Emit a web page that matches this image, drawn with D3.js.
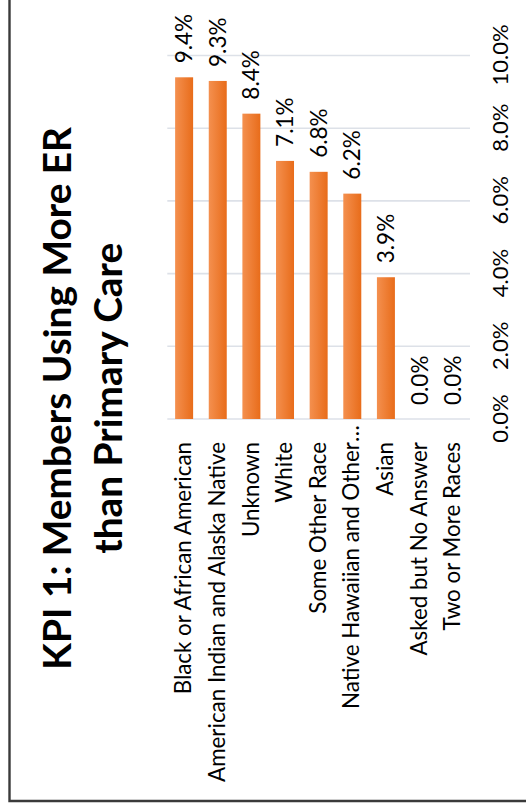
<!DOCTYPE html>
<html>
<head>
<meta charset="utf-8">
<script src="https://cdn.jsdelivr.net/npm/d3@7"></script>
<style>
  html, body { margin: 0; padding: 0; background: #fff; }
  svg { display: block; }
  text { font-family: Lato, "Noto Sans", sans-serif; fill: #000; }
</style>
</head>
<body>
<svg id="chart" width="526" height="809"></svg>
<script>
// ---- data ----
const categories = [
  "Black or African American",
  "American Indian and Alaska Native",
  "Unknown",
  "White",
  "Some Other Race",
  "Native Hawaiian and Other…",
  "Asian",
  "Asked but No Answer",
  "Two or More Races"
];
const values = [0.094, 0.093, 0.084, 0.071, 0.068, 0.062, 0.039, 0.0, 0.0];
const tickValues = [0, 0.02, 0.04, 0.06, 0.08, 0.10];
const titleLines = ["KPI 1: Members Using More ER", "than Primary Care"];

const W = 526, H = 809;
const FONT = "Lato, 'Noto Sans', sans-serif";
const svg = d3.select("#chart");

// gradient for bars
const defs = svg.append("defs");
const grad = defs.append("linearGradient").attr("id", "barGrad")
  .attr("x1", 0).attr("y1", 0).attr("x2", 0).attr("y2", 1);
grad.append("stop").attr("offset", "0%").attr("stop-color", "#F4904F");
grad.append("stop").attr("offset", "100%").attr("stop-color", "#E86C1A");

// border (only left and bottom edges visible)
svg.append("path")
  .attr("d", `M9.5,-5 V801 H${W + 5}`)
  .attr("fill", "none")
  .attr("stroke", "#3a3a3a")
  .attr("stroke-width", 2.4);

// rotated chart group: chart drawn as horizontal bars, then rotated -90deg
const g = svg.append("g").attr("transform", `translate(0,${H}) rotate(-90)`);

const x = d3.scaleLinear().domain([0, 0.10]).range([390, 753.5]);
const y = d3.scaleBand().domain(categories).range([167.3, 470])
  .paddingInner(0.465).paddingOuter(0.2325);

const fmt = d3.format(".1%");

// gridlines
g.append("g").selectAll("line").data(tickValues).join("line")
  .attr("x1", d => x(d)).attr("x2", d => x(d))
  .attr("y1", y.range()[0]).attr("y2", y.range()[1])
  .attr("stroke", "#DDE1E8").attr("stroke-width", 1.6);

// bars
const data = categories.map((c, i) => ({ c, v: values[i] }));
g.append("g").selectAll("rect").data(data.filter(d => d.v > 0)).join("rect")
  .attr("x", x(0))
  .attr("y", d => y(d.c))
  .attr("width", d => x(d.v) - x(0))
  .attr("height", y.bandwidth())
  .attr("fill", "url(#barGrad)");

// value labels
g.append("g").selectAll("text").data(data).join("text")
  .attr("x", d => x(d.v) + 14)
  .attr("y", d => y(d.c) + y.bandwidth() / 2)
  .attr("dy", "0.36em")
  .attr("font-size", 22.5)
  .text(d => fmt(d.v));

// value axis tick labels
const xAxis = g.append("g").attr("transform", `translate(0,${y.range()[1]})`)
  .call(d3.axisBottom(x).tickValues(tickValues).tickFormat(fmt).tickSize(0).tickPadding(22.5));
xAxis.select(".domain").remove();
xAxis.selectAll("text").attr("font-size", 22).attr("font-family", FONT).attr("fill", "#000");

// category axis labels
const yAxis = g.append("g").attr("transform", `translate(${x(0)},0)`)
  .call(d3.axisLeft(y).tickSize(0).tickPadding(23));
yAxis.select(".domain").remove();
yAxis.selectAll("text").attr("font-size", 22.4).attr("font-family", FONT).attr("fill", "#000")
  .each(function(d) {
    if (d.endsWith("…")) {
      const t = d3.select(this);
      t.text(d.slice(0, -1));
      d3.select(this.parentNode).append("text")
        .attr("x", t.attr("x")).attr("dy", t.attr("dy"))
        .attr("text-anchor", "start")
        .attr("font-size", 22.4).attr("font-family", FONT).attr("fill", "#000")
        .text("…");
    }
  });

// title
const titleU = 410.7;
const titleBaselines = [70.7, 122];
g.append("g").selectAll("text").data(titleLines).join("text")
  .attr("x", titleU)
  .attr("y", (d, i) => titleBaselines[i])
  .attr("text-anchor", "middle")
  .attr("font-size", 38.8)
  .attr("font-weight", 700)
  .text(d => d);
</script>
</body>
</html>
